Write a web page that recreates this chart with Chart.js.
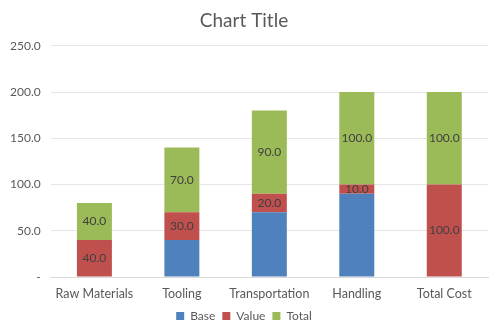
<!DOCTYPE html>
<html lang="en">
  <head>
    <meta charset="UTF-8" />
    <title>Cost Breakdown</title>
    <script src="https://cdn.jsdelivr.net/npm/chart.js"></script>
    <style>
      body {
        margin: 0;
        background: #fff;
      }
      #wrap {
        width: 500px;
        height: 334px;
      }
    </style>
  </head>
  <body>
    <div id="wrap"><canvas id="costChart"></canvas></div>

    <script>
      const categories = ["Raw Materials", "Tooling", "Transportation", "Handling", "Total Cost"];
      const baseValues = [0, 40, 70, 90, 0];
      const stepValues = [40, 30, 20, 10, 100];
      const totalValues = [40, 70, 90, 100, 100];
      const yTicks = [0, 50, 100, 150, 200, 250];

      const textColor = "#595959";
      const font = "Lato, 'Liberation Sans', sans-serif";

      // writes the number in the middle of each Value / Total segment
      const segmentLabels = {
        id: "segmentLabels",
        afterDatasetsDraw(chart) {
          const ctx = chart.ctx;
          ctx.save();
          ctx.font = "12px " + font;
          ctx.fillStyle = "#404040";
          ctx.textAlign = "center";
          ctx.textBaseline = "middle";
          [1, 2].forEach((di) => {
            const meta = chart.getDatasetMeta(di);
            const values = chart.data.datasets[di].data;
            meta.data.forEach((bar, i) => {
              const mid = (bar.y + bar.base) / 2;
              ctx.fillText(values[i].toFixed(1), bar.x, mid);
            });
          });
          ctx.restore();
        },
      };

      const ctx = document.getElementById("costChart").getContext("2d");
      new Chart(ctx, {
        type: "bar",
        data: {
          labels: categories,
          datasets: [
            { label: "Base", data: baseValues, backgroundColor: "#4F81BD" },
            { label: "Value", data: stepValues, backgroundColor: "#C0504D" },
            { label: "Total", data: totalValues, backgroundColor: "#9BBB59" },
          ],
        },
        options: {
          responsive: true,
          maintainAspectRatio: false,
          animation: false,
          layout: { padding: { left: 0, right: 12, top: 7, bottom: 2 } },
          datasets: { bar: { barPercentage: 0.4, categoryPercentage: 1 } },
          plugins: {
            title: {
              display: true,
              text: "Chart Title",
              color: textColor,
              font: { family: font, size: 19, weight: "normal" },
              padding: { top: 2, bottom: 14 },
            },
            legend: {
              position: "bottom",
              labels: {
                color: textColor,
                font: { family: font, size: 12 },
                boxWidth: 8,
                boxHeight: 8,
                padding: 7,
              },
            },
            tooltip: { enabled: false },
          },
          scales: {
            x: {
              stacked: true,
              grid: { display: false, drawTicks: false },
              border: { color: "#d9d9d9" },
              ticks: { color: textColor, font: { family: font, size: 12.5 }, padding: 9 },
              afterFit: (axis) => {
                axis.height = 26;
              },
            },
            y: {
              stacked: true,
              min: 0,
              max: 250,
              afterBuildTicks: (axis) => {
                axis.ticks = yTicks.map((v) => ({ value: v }));
              },
              grid: { color: "#e6e6e6", drawTicks: false },
              border: { display: false },
              ticks: {
                color: textColor,
                font: { family: font, size: 12 },
                padding: 10,
                callback: (v) => (v === 0 ? "-" : v.toFixed(1)),
              },
            },
          },
        },
        plugins: [segmentLabels],
      });
    </script>
  </body>
</html>
